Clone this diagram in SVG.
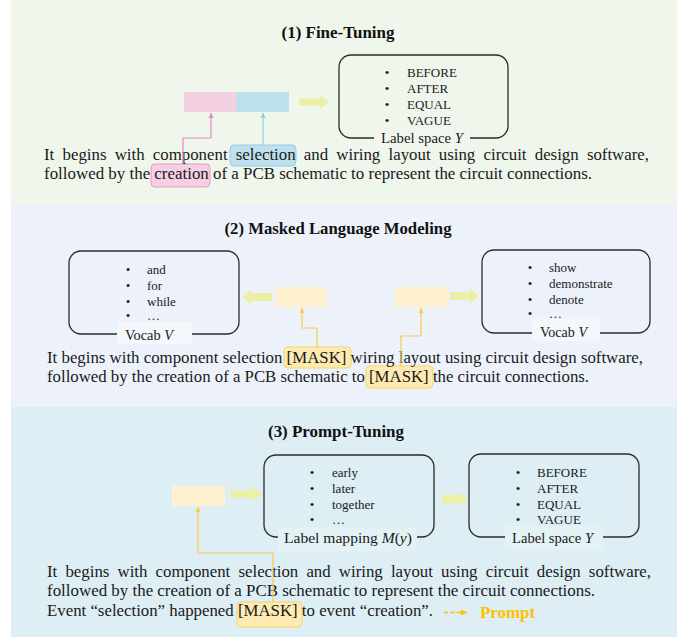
<svg xmlns="http://www.w3.org/2000/svg" width="688" height="637" viewBox="0 0 688 637">
<style>
.title{font-family:"Liberation Serif","Times New Roman",serif;font-weight:bold;font-size:16px;fill:#111}
.body{font-family:"Liberation Serif","Times New Roman",serif;font-size:16px;fill:#1a1a1a}
.item{font-family:"Liberation Serif","Times New Roman",serif;font-size:13px;fill:#1a1a1a}
.bul{font-family:"Liberation Serif","Times New Roman",serif;font-size:13px;fill:#1a1a1a;text-anchor:middle}
.lab{font-family:"Liberation Serif","Times New Roman",serif;font-size:14.5px;fill:#1a1a1a}
.box{fill:none;stroke:#2b2b2b;stroke-width:1.3}
.barrow{fill:#ECEFA6}
.cream{fill:#FFF1CE}
.mask{fill:#FEEBB2;stroke:#F8D36A;stroke-width:1}
.yconn{fill:none;stroke:#F8CB4E;stroke-width:1.2}
</style>
<defs>
<marker id="ap" markerUnits="userSpaceOnUse" markerWidth="6" markerHeight="6" refX="5" refY="3" orient="auto"><path d="M0,0.5 L5,3 L0,5.5 z" fill="#E38DB8"/></marker>
<marker id="ab" markerUnits="userSpaceOnUse" markerWidth="6" markerHeight="6" refX="5" refY="3" orient="auto"><path d="M0,0.5 L5,3 L0,5.5 z" fill="#8ECFE3"/></marker>
<marker id="ay" markerUnits="userSpaceOnUse" markerWidth="6" markerHeight="6" refX="5" refY="3" orient="auto"><path d="M0,0.5 L5,3 L0,5.5 z" fill="#F8CB4E"/></marker>
<marker id="ao" markerUnits="userSpaceOnUse" markerWidth="7" markerHeight="7" refX="6" refY="3.5" orient="auto"><path d="M0,0.5 L6,3.5 L0,6.5 z" fill="#FFC000"/></marker>
</defs>

<g id="panel1">
<rect x="11" y="0" width="666" height="204" fill="#EFF6EC"/>
<text class="title" x="338" y="38" text-anchor="middle" textLength="113" lengthAdjust="spacingAndGlyphs">(1) Fine-Tuning</text>
</g>
<g id="panel2">
<rect x="11" y="204" width="666" height="203" fill="#EDF2FA"/>
<text class="title" x="338" y="234" text-anchor="middle" textLength="227" lengthAdjust="spacingAndGlyphs">(2) Masked Language Modeling</text>
</g>
<g id="panel3">
<rect x="11" y="407" width="666" height="230" fill="#DDEEF4"/>
<text class="title" x="336" y="437" text-anchor="middle" textLength="136" lengthAdjust="spacingAndGlyphs">(3) Prompt-Tuning</text>
</g>

<!-- Section 1 -->
<g id="ft-sentence">
<rect x="230" y="145" width="66" height="21" rx="4" fill="#BFE0EE" stroke="#92CDE3"/>
<rect x="151" y="164" width="59" height="23" rx="4" fill="#F5CFE2" stroke="#E59AC0"/>
<text class="body" x="44" y="160" word-spacing="3.85" textLength="605" lengthAdjust="spacingAndGlyphs">It begins with component selection and wiring layout using circuit design software,</text>
<text class="body" x="44" y="178.5" textLength="548" lengthAdjust="spacingAndGlyphs">followed by the creation of a PCB schematic to represent the circuit connections.</text>
</g>
<g id="ft-embed">
<rect x="184" y="92" width="52" height="20" fill="#F4D0E3"/>
<rect x="236" y="92" width="53" height="20" fill="#BEE1EC"/>
</g>
<g id="ft-arrow"><polygon class="barrow" points="299,98.5 320,98.5 320,95 329,102 320,109 320,105.5 299,105.5"/></g>
<g id="ft-labelspace">
<rect class="box" x="339" y="55" width="169" height="83" rx="12"/>
<rect x="374" y="130" width="96" height="18" fill="#F1F7EF"/>
<text class="bul" x="387" y="77">•</text><text class="item" x="407" y="77">BEFORE</text>
<text class="bul" x="387" y="93">•</text><text class="item" x="407" y="93">AFTER</text>
<text class="bul" x="387" y="109">•</text><text class="item" x="407" y="109">EQUAL</text>
<text class="bul" x="387" y="125">•</text><text class="item" x="407" y="125">VAGUE</text>
<text class="lab" x="381" y="142.5" textLength="82" lengthAdjust="spacingAndGlyphs">Label space <tspan font-style="italic">Y</tspan></text>
</g>

<!-- Section 2 -->
<g id="mlm-sentence">
<rect class="mask" x="284" y="347" width="67" height="21" rx="4"/>
<rect class="mask" x="366" y="366" width="67" height="22" rx="4"/>
<text class="body" x="47" y="363" textLength="596" lengthAdjust="spacingAndGlyphs">It begins with component selection [MASK] wiring layout using circuit design software,</text>
<text class="body" x="47" y="382" textLength="542" lengthAdjust="spacingAndGlyphs">followed by the creation of a PCB schematic to [MASK] the circuit connections.</text>
</g>
<g id="mlm-mask1"><rect class="cream" x="275" y="287" width="52" height="20"/></g>
<g id="mlm-mask2"><rect class="cream" x="395" y="287" width="53" height="20"/></g>
<g id="mlm-arrow-left"><polygon class="barrow" points="272,293 251,293 251,289.5 242,297 251,304.5 251,301 272,301"/></g>
<g id="mlm-arrow-right"><polygon class="barrow" points="450,292 470,292 470,288.5 479,296 470,303.5 470,300 450,300"/></g>
<g id="vocab-left">
<rect class="box" x="69" y="251" width="170" height="83" rx="12"/>
<rect x="117" y="322" width="75" height="22" fill="#F4F7FC"/>
<text class="bul" x="128" y="274">•</text><text class="item" x="147" y="274">and</text>
<text class="bul" x="128" y="290">•</text><text class="item" x="147" y="290">for</text>
<text class="bul" x="128" y="306">•</text><text class="item" x="147" y="306">while</text>
<text class="bul" x="128" y="320">•</text><text class="item" x="147" y="320">…</text>
<text class="lab" x="125" y="340" textLength="48" lengthAdjust="spacingAndGlyphs">Vocab <tspan font-style="italic">V</tspan></text>
</g>
<g id="vocab-right">
<rect class="box" x="482" y="250" width="168" height="83" rx="12"/>
<rect x="532" y="319" width="68" height="22" fill="#F4F7FC"/>
<text class="bul" x="530" y="272">•</text><text class="item" x="549" y="272">show</text>
<text class="bul" x="530" y="288">•</text><text class="item" x="549" y="288">demonstrate</text>
<text class="bul" x="530" y="304">•</text><text class="item" x="549" y="304">denote</text>
<text class="bul" x="530" y="318">•</text><text class="item" x="549" y="318">…</text>
<text class="lab" x="540" y="337" textLength="47" lengthAdjust="spacingAndGlyphs">Vocab <tspan font-style="italic">V</tspan></text>
</g>

<!-- Section 3 -->
<g id="pt-sentence">
<rect class="mask" x="237" y="602" width="65" height="25" rx="4"/>
<text class="body" x="47" y="577" word-spacing="3.76" textLength="604" lengthAdjust="spacingAndGlyphs">It begins with component selection and wiring layout using circuit design software,</text>
<text class="body" x="47" y="596" textLength="548" lengthAdjust="spacingAndGlyphs">followed by the creation of a PCB schematic to represent the circuit connections.</text>
<text class="body" x="47" y="616" textLength="386" lengthAdjust="spacingAndGlyphs">Event “selection” happened [MASK] to event “creation”.</text>
</g>
<g id="pt-mask"><rect class="cream" x="172" y="486" width="53" height="20"/></g>
<g id="pt-arrow1"><polygon class="barrow" points="231,490 253,490 253,486.5 262,494 253,501.5 253,498 231,498"/></g>
<g id="pt-arrow2"><polygon class="barrow" points="442,495 459,495 459,491.5 468,499 459,506.5 459,503 442,503"/></g>
<g id="label-mapping">
<rect class="box" x="264" y="455" width="170" height="82" rx="12"/>
<rect x="278" y="527" width="139" height="24" fill="#E4F2F6"/>
<text class="bul" x="312" y="477">•</text><text class="item" x="332" y="477">early</text>
<text class="bul" x="312" y="493">•</text><text class="item" x="332" y="493">later</text>
<text class="bul" x="312" y="509">•</text><text class="item" x="332" y="509">together</text>
<text class="bul" x="312" y="524">•</text><text class="item" x="332" y="524">…</text>
<text class="lab" x="284" y="543" textLength="128" lengthAdjust="spacingAndGlyphs">Label mapping <tspan font-style="italic">M</tspan>(<tspan font-style="italic">y</tspan>)</text>
</g>
<g id="pt-labelspace">
<rect class="box" x="469" y="454" width="170" height="83" rx="12"/>
<rect x="505" y="526" width="98" height="24" fill="#E4F2F6"/>
<text class="bul" x="518" y="477">•</text><text class="item" x="537" y="477">BEFORE</text>
<text class="bul" x="518" y="493">•</text><text class="item" x="537" y="493">AFTER</text>
<text class="bul" x="518" y="509">•</text><text class="item" x="537" y="509">EQUAL</text>
<text class="bul" x="518" y="524">•</text><text class="item" x="537" y="524">VAGUE</text>
<text class="lab" x="512" y="543" textLength="81" lengthAdjust="spacingAndGlyphs">Label space <tspan font-style="italic">Y</tspan></text>
</g>
<g id="legend">
<line x1="444" y1="612.5" x2="467" y2="612.5" stroke="#FFC000" stroke-width="1.6" stroke-dasharray="4,2.5" marker-end="url(#ao)"/>
<text x="480" y="618" font-family="Liberation Serif, serif" font-weight="bold" font-size="16" fill="#FFC000" textLength="55" lengthAdjust="spacingAndGlyphs">Prompt</text>
</g>

<g id="connectors">
<polyline points="183,164 183,138 211,138 211,113" fill="none" stroke="#E38DB8" stroke-width="1.2" marker-end="url(#ap)"/>
<polyline points="263,145 263,113" fill="none" stroke="#8ECFE3" stroke-width="1.2" marker-end="url(#ab)"/>
<polyline class="yconn" points="317,347 317,328 302,328 302,308" marker-end="url(#ay)"/>
<polyline class="yconn" points="401,366 401,336 421,336 421,308" marker-end="url(#ay)"/>
<polyline class="yconn" points="273,602 273,553 198,553 198,507" marker-end="url(#ay)"/>
</g>
</svg>
